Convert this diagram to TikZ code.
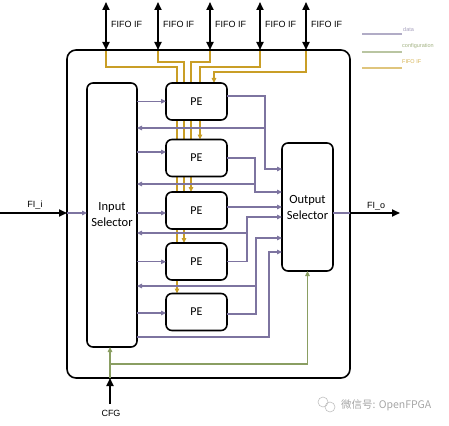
\documentclass[tikz,border=0pt]{standalone}
\usepackage{fontspec}
\setmainfont{Carlito}
\newfontfamily\lblfont{Liberation Sans}
\newfontfamily\cjkfont{Noto Sans CJK SC}
\usetikzlibrary{arrows.meta,backgrounds}

\definecolor{datacol}{RGB}{125,116,160}
\definecolor{cfgcol}{RGB}{138,158,98}
\definecolor{fifocol}{RGB}{201,158,38}

\tikzset{
  blk/.style={draw=black, line width=1.6pt, rounded corners=6pt, fill=white,
              inner sep=0pt, outer sep=0pt, align=center},
  pe/.style={blk, minimum width=61pt, minimum height=37pt, font=\fontsize{12}{14}\selectfont},
  sel/.style={blk, font=\fontsize{12.5}{16}\selectfont},
  bus/.style={draw=black, line width=1.8pt},
  busarrow/.style={bus, -{Triangle[length=8pt,width=7pt]}},
  biarrow/.style={bus, {Triangle[length=8pt,width=7pt]}-{Triangle[length=8pt,width=7pt]}},
  data/.style={draw=datacol, line width=1.1pt},
  dataarrow/.style={data, -{Triangle[length=5pt,width=4.5pt]}},
  fifo/.style={draw=fifocol, line width=1.1pt},
  fifoarrow/.style={fifo, -{Triangle[length=5pt,width=4.5pt]}},
  cfgarrow/.style={draw=cfgcol, line width=1.1pt, -{Triangle[length=5pt,width=4.5pt]}},
  lbl/.style={font=\lblfont\fontsize{9}{10}\selectfont, inner sep=0pt},
  leg/.style={font=\lblfont\fontsize{5.5}{6}\selectfont, inner sep=0pt, anchor=west}
}

\begin{document}
\begin{tikzpicture}[x=1pt,y=-1pt]
  \useasboundingbox (0,0) rectangle (449,425);

  % blocks
  \node[blk, fill=none, rounded corners=9pt, minimum width=283pt, minimum height=328pt] (outer) at (208.5,214) {};
  \node[sel, minimum width=50pt, minimum height=264pt] (insel) at (112,215) {Input\\Selector};
  \node[sel, minimum width=51pt, minimum height=128pt] (outsel) at (307.5,207) {Output\\Selector};

  \node[pe] (pe1) at (196.5,101.5) {PE};
  \node[pe] (pe2) at (196.5,158) {PE};
  \node[pe] (pe3) at (196.5,210.5) {PE};
  \node[pe] (pe4) at (196.5,261.5) {PE};
  \node[pe] (pe5) at (196.5,312) {PE};

  % fifo interfaces
  \foreach \i/\x in {1/106,2/158,3/210,4/260,5/306} {
    \coordinate (f\i) at (\x,2);
    \draw[biarrow] (f\i) -- (f\i |- outer.north);
    \node[lbl, anchor=west] (fl\i) at (\x+5,24) {FIFO IF};
  }

  \begin{scope}[on background layer]
    \foreach \i/\c/\h/\p in {1/177/67/pe5,2/184/62/pe4,3/191/62/pe3,4/200/67/pe2,5/214/72/pe1}
      \draw[fifoarrow] (f\i |- outer.north) |- (\c,\h) -- (\c,0 |- \p.north);
  \end{scope}

  % input selector to PEs
  \foreach \p/\s in {pe1/0.3,pe2/6,pe3/-2.5,pe4/-0.3,pe5/-1}
    \draw[dataarrow] ([yshift=\s pt]\p.west -| insel.east) -- ([yshift=\s pt]\p.west);

  % PE outputs and feedback
  \draw[dataarrow] ([yshift=5.5pt]pe1.east) -| (265,169) -- (outsel.west |- 0,169);
  \draw[dataarrow] (265,128) -- (insel.east |- 0,128);
  \draw[dataarrow] (pe2.east) -| (255,192) -- (outsel.west |- 0,192);
  \draw[dataarrow] (255,184) -- (insel.east |- 0,184);
  \draw[dataarrow] (pe3.east |- 0,207) -- (outsel.west |- 0,207);
  \draw[dataarrow] (pe4.east) -| (247,217) -- (outsel.west |- 0,217);
  \draw[dataarrow] (247,233) -- (insel.east |- 0,233);
  \draw[dataarrow] ([yshift=-2pt]pe5.east) -| (256,238) -- (outsel.west |- 0,238);
  \draw[dataarrow] (256,286) -- (insel.east |- 0,286);
  \draw[dataarrow] (insel.east |- 0,337) -| (269,252) -- (outsel.west |- 0,252);

  % FI_i / FI_o
  \coordinate (fii) at (0,213);
  \draw[busarrow] (fii) -- (fii -| outer.west);
  \draw[dataarrow] (fii -| outer.west) -- (fii -| insel.west);
  \node[lbl] (fiil) at (35,205) {FI\_i};

  \coordinate (fio) at (400,213);
  \draw[data] (fio -| outsel.east) -- (fio -| outer.east);
  \draw[busarrow] (fio -| outer.east) -- (fio);
  \node[lbl] (fiol) at (376,206) {FI\_o};

  % configuration
  \coordinate (cfg) at (110,404);
  \draw[busarrow] (cfg) -- (cfg |- outer.south);
  \node[lbl] (cfgl) at (111,413) {CFG};
  \draw[cfgarrow] (cfg |- outer.south) -- (cfg |- insel.south);
  \draw[cfgarrow] (cfg |- 0,364) -| (outsel.south);

  % legend
  \draw[draw=datacol!60, line width=1.3pt] (362,34) -- (402,34);
  \node[leg, text=datacol!70] (lgd) at (403,30) {data};
  \draw[draw=cfgcol!60, line width=1.3pt] (362,52) -- (402,52);
  \node[leg, text=cfgcol!80] (lgc) at (402,46) {configuration};
  \draw[draw=fifocol!60, line width=1.3pt] (362,68) -- (402,68);
  \node[leg, text=fifocol!80] (lgf) at (402,62) {FIFO IF};

  % watermark
  \draw[gray!50, line width=0.6pt] (323,402) circle (5pt);
  \draw[gray!50, line width=0.6pt] (330,407) circle (5pt);
  \node[anchor=west, inner sep=0pt, text=gray!70, font=\cjkfont\fontsize{10.5}{12}\selectfont] (wm) at (341,405) {微信号: OpenFPGA};
\end{tikzpicture}
\end{document}
